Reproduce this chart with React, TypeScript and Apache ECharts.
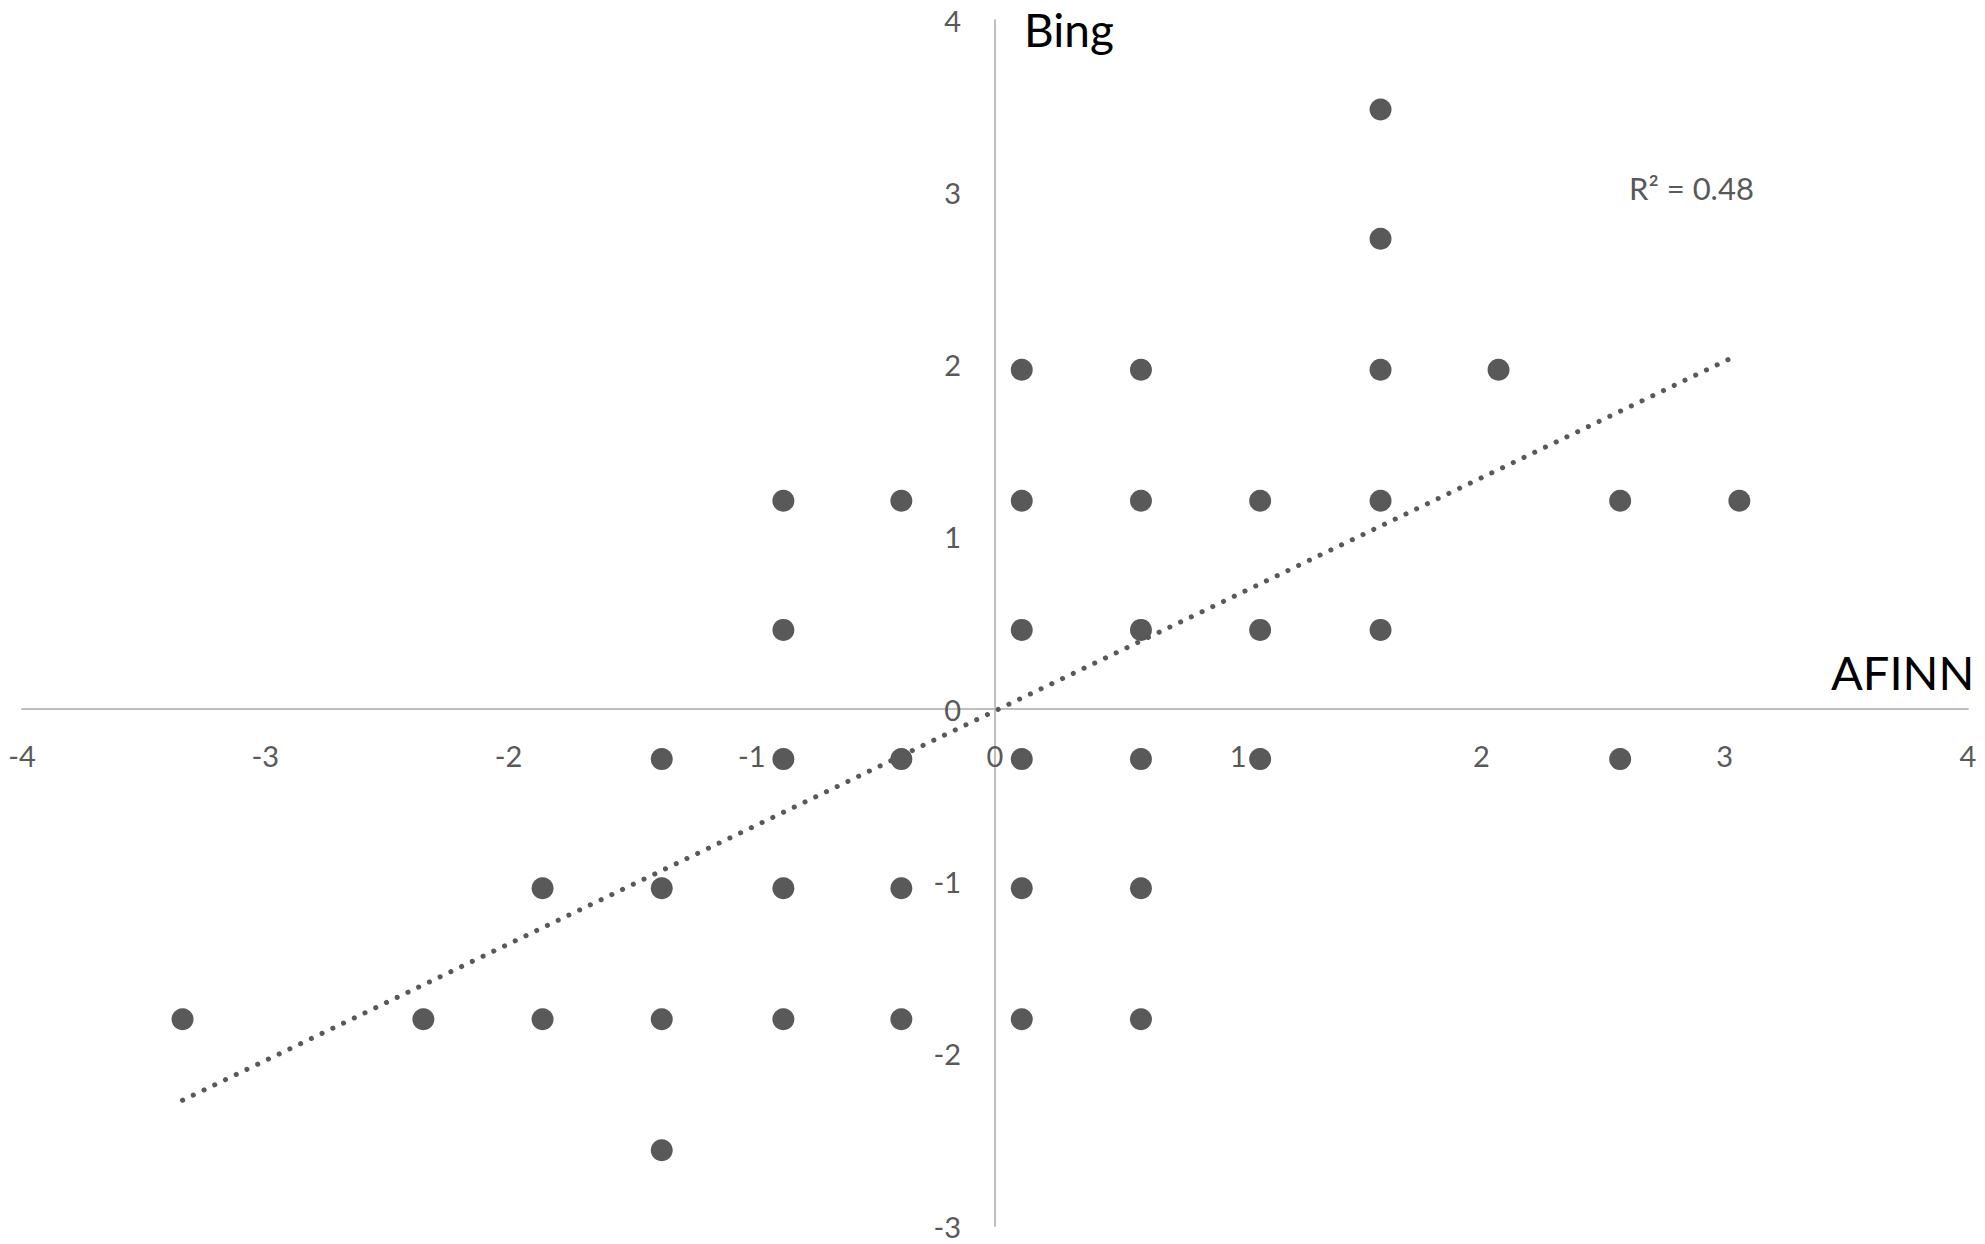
import React, { useEffect, useRef } from "react";
import * as echarts from "echarts";

// AFINN (x) and Bing (y) score pairs
const afinn = [
  1.585,
  1.585,
  0.11, 0.6, 1.585, 2.07,
  -0.87, -0.385, 0.11, 0.6, 1.09, 1.585, 2.57, 3.06,
  -0.87, 0.11, 0.6, 1.09, 1.585,
  -1.37, -0.87, -0.385, 0.11, 0.6, 1.09, 2.57,
  -1.86, -1.37, -0.87, -0.385, 0.11, 0.6,
  -3.34, -2.35, -1.86, -1.37, -0.87, -0.385, 0.11, 0.6,
  -1.37,
];
const bing = [
  3.48,
  2.73,
  1.97, 1.97, 1.97, 1.97,
  1.21, 1.21, 1.21, 1.21, 1.21, 1.21, 1.21, 1.21,
  0.46, 0.46, 0.46, 0.46, 0.46,
  -0.29, -0.29, -0.29, -0.29, -0.29, -0.29, -0.29,
  -1.04, -1.04, -1.04, -1.04, -1.04, -1.04,
  -1.8, -1.8, -1.8, -1.8, -1.8, -1.8, -1.8, -1.8,
  -2.56,
];
// linear trendline end points
const trendX = [-3.34, 3.03];
const trendY = [-2.27, 2.04];
const rSquared = "R² = 0.48";
const xName = "AFINN";
const yName = "Bing";
const xMin = -4, xMax = 4, yMin = -3, yMax = 4;

const W = 1985, H = 1244;
const G = { left: 22, right: 17, top: 20, bottom: 18 };

export default function App() {
  const ref = useRef<HTMLDivElement>(null);
  useEffect(() => {
    if (!ref.current) return;
    const chart = echarts.init(ref.current, null, { renderer: "svg" });
    const grey = "#595959";
    const font = "Lato, 'Open Sans', sans-serif";
    // place axes through the origin
    const gw = W - G.left - G.right;
    const gh = H - G.top - G.bottom;
    const zeroYFromBottom = ((0 - yMin) / (yMax - yMin)) * gh;
    const zeroXFromLeft = ((0 - xMin) / (xMax - xMin)) * gw;
    chart.setOption({
      animation: false,
      backgroundColor: "#ffffff",
      grid: { ...G, containLabel: false, outerBoundsMode: "none" },
      xAxis: {
        type: "value",
        min: xMin,
        max: xMax,
        interval: 1,
        offset: -zeroYFromBottom,
        axisLine: { onZero: false, lineStyle: { color: "#bfbfbf", width: 2 } },
        axisTick: { show: false },
        splitLine: { show: false },
        axisLabel: { color: grey, fontSize: 29, fontFamily: font, margin: 32 },
      },
      yAxis: {
        type: "value",
        min: yMin,
        max: yMax,
        interval: 1,
        offset: -zeroXFromLeft,
        axisLine: { onZero: false, lineStyle: { color: "#bfbfbf", width: 2 } },
        axisTick: { show: false },
        splitLine: { show: false },
        axisLabel: { color: grey, fontSize: 29, fontFamily: font, margin: 34 },
      },
      series: [
        {
          type: "line",
          data: trendX.map((x, i) => [x, trendY[i]]),
          symbol: "none",
          silent: true,
          lineStyle: { color: grey, width: 5, type: [0.1, 11.8], cap: "round" },
          z: 1,
        },
        {
          type: "scatter",
          data: afinn.map((x, i) => [x, bing[i]]),
          symbolSize: 22,
          itemStyle: { color: grey, opacity: 1 },
          z: 2,
        },
      ],
      graphic: [
        {
          type: "text",
          left: 1024,
          top: 6,
          style: { text: yName, fill: "#000", fontSize: 46, fontFamily: font },
        },
        {
          type: "text",
          left: 1831,
          top: 648,
          style: { text: xName, fill: "#000", fontSize: 47, fontFamily: font },
        },
        {
          type: "text",
          left: 1629,
          top: 172,
          style: { text: rSquared, fill: grey, fontSize: 31, fontFamily: font },
        },
      ],
    });
    return () => chart.dispose();
  }, []);
  return (
    <div
      ref={ref}
      style={{ position: "absolute", left: 0, top: 0, width: W, height: H }}
    />
  );
}
